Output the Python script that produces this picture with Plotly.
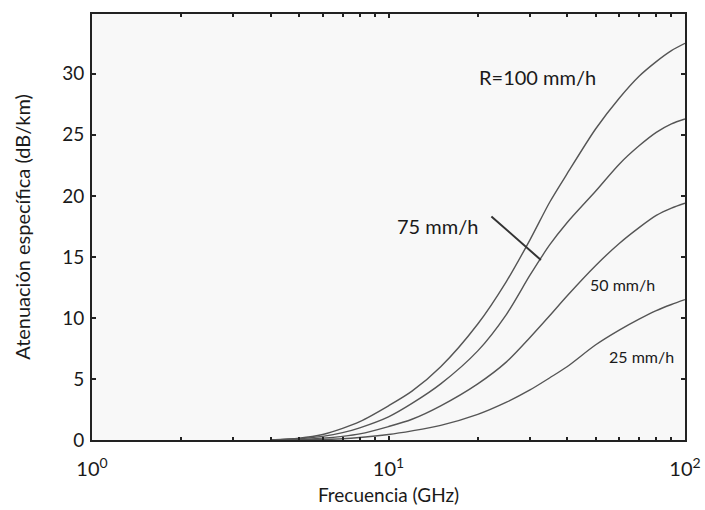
import plotly.graph_objects as go

freq = [4, 5, 6, 7, 8, 10, 12, 15, 20, 25, 30, 35, 40, 50, 60, 70, 80, 90, 100]
att_100 = [0.0, 0.15, 0.45, 0.95, 1.5, 2.8, 4.0, 6.0, 9.5, 13.0, 16.4, 19.5, 21.8, 25.5, 28.0, 29.8, 31.0, 31.9, 32.5]
att_75 = [0.0, 0.1, 0.3, 0.6, 1.0, 1.9, 3.0, 4.6, 7.3, 10.3, 13.5, 16.0, 17.8, 20.4, 22.6, 24.1, 25.2, 25.9, 26.3]
att_50 = [0.0, 0.05, 0.15, 0.3, 0.5, 1.1, 1.7, 2.8, 4.6, 6.4, 8.4, 10.2, 11.8, 14.3, 16.1, 17.4, 18.4, 19.0, 19.4]
att_25 = [0.0, 0.02, 0.05, 0.1, 0.2, 0.45, 0.75, 1.2, 2.1, 3.1, 4.1, 5.1, 6.0, 7.8, 9.0, 9.9, 10.6, 11.1, 11.5]

x_tickvals = [1, 10, 100]
x_ticktext = ["10<sup>0</sup>", "10<sup>1</sup>", "10<sup>2</sup>"]
x_minor = [2, 3, 4, 5, 6, 7, 8, 9, 20, 30, 40, 50, 60, 70, 80, 90]
y_tickvals = [0, 5, 10, 15, 20, 25, 30]

FONT = "Lato"
TXT = "#1a1a1a"
line_style = dict(color="#555555", width=1.4, shape="spline", smoothing=0.8)

fig = go.Figure()
for fy in [att_100, att_75, att_50, att_25]:
    fig.add_trace(go.Scatter(x=freq, y=fy, mode="lines", line=line_style,
                             showlegend=False, hoverinfo="skip"))

fig.update_layout(
    width=705, height=510,
    margin=dict(l=92, r=20, t=14, b=70),
    paper_bgcolor="white",
    plot_bgcolor="#f8f8f8",
    font=dict(family=FONT, size=18, color=TXT),
    showlegend=False,
)

fig.update_xaxes(
    type="log", range=[0, 2], automargin=False,
    tickmode="array", tickvals=x_tickvals, ticktext=x_ticktext,
    ticks="inside", ticklen=4, tickwidth=1.5, tickcolor="#222",
    minor=dict(tickmode="array", tickvals=x_minor, ticks="inside", ticklen=3,
               tickwidth=1.5, tickcolor="#222", showgrid=False),
    showline=True, linecolor="#222", linewidth=2, mirror="ticks",
    showgrid=False, zeroline=False,
    ticklabelstandoff=10,
    tickfont=dict(size=20, family=FONT, color=TXT),
    title=dict(text="Frecuencia (GHz)", font=dict(size=19, family=FONT, color=TXT), standoff=10),
)
fig.update_yaxes(
    range=[0, 34.9], automargin=False,
    tickmode="array", tickvals=y_tickvals,
    ticks="inside", ticklen=4, tickwidth=1.5, tickcolor="#222",
    showline=True, linecolor="#222", linewidth=2, mirror="ticks",
    showgrid=False, zeroline=False,
    ticklabelstandoff=2,
    tickfont=dict(size=19, family=FONT, color=TXT),
    title=dict(text="Atenuación específica (dB/km)", font=dict(size=20, family=FONT, color=TXT), standoff=26),
)

fig.add_annotation(x=0.752, y=0.852, xref="paper", yref="paper", text="R=100 mm/h",
                   showarrow=False, font=dict(size=20, family=FONT, color=TXT), xanchor="center", yanchor="middle")
fig.add_annotation(x=0.582, y=0.502, xref="paper", yref="paper", text="75 mm/h",
                   showarrow=False, font=dict(size=20, family=FONT, color=TXT), xanchor="center", yanchor="middle")
fig.add_annotation(x=0.895, y=0.364, xref="paper", yref="paper", text="50 mm/h",
                   showarrow=False, font=dict(size=16, family=FONT, color=TXT), xanchor="center", yanchor="middle")
fig.add_annotation(x=0.926, y=0.197, xref="paper", yref="paper", text="25 mm/h",
                   showarrow=False, font=dict(size=16, family=FONT, color=TXT), xanchor="center", yanchor="middle")
# arrow from label toward the 75 mm/h curve
fig.add_annotation(x=0.757, y=0.4225, ax=0.671, ay=0.528, xref="x domain", yref="y domain",
                   axref="x domain", ayref="y domain", text="", showarrow=True,
                   arrowhead=0, arrowwidth=2, arrowcolor="#333")

fig.write_html("out.html")
